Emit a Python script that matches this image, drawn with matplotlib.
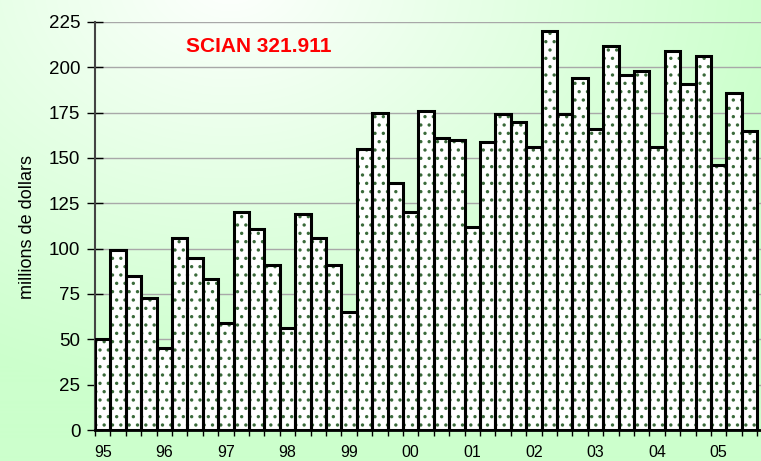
import numpy as np
import matplotlib
matplotlib.use('Agg')
import matplotlib.pyplot as plt

# quarterly values, 1995 Q1 to 2005 Q3 (millions of dollars)
values = [50, 99, 85, 73,
          45, 106, 95, 83,
          59, 120, 111, 91,
          56, 119, 106, 91,
          65, 155, 175, 136,
          120, 176, 161, 160,
          112, 159, 174, 170,
          156, 220, 174, 194,
          166, 212, 196, 198,
          156, 209, 191, 206,
          146, 186, 165]
year_labels = ['95', '96', '97', '98', '99', '00', '01', '02', '03', '04', '05']
yticks = [0, 25, 50, 75, 100, 125, 150, 175, 200, 225]

narrow = ['Liberation Sans Narrow', 'Liberation Sans', 'DejaVu Sans']
plt.rcParams['hatch.linewidth'] = 1.2

fig = plt.figure(figsize=(7.61, 4.61), dpi=100)

# background gradient: white near top left, light green elsewhere
bg = fig.add_axes([0, 0, 1, 1], zorder=-10)
bg.axis('off')
W, H = 761, 461
xx, yy = np.meshgrid(np.arange(W), np.arange(H))
d = np.sqrt(((xx - 230) / 1.0) ** 2 + ((yy + 20) / 0.75) ** 2)
t = np.clip(d / 560.0, 0, 1) ** 0.9
green = np.array([204, 255, 204]) / 255.0
img = (1 - t[..., None]) * np.array([1.0, 1.0, 1.0]) + t[..., None] * green
bg.imshow(img, extent=[0, 1, 0, 1], aspect='auto', origin='upper')
bg.set_xlim(0, 1)
bg.set_ylim(0, 1)

ax = fig.add_axes([95 / 761, 31 / 461, 666 / 761, 408 / 461])
ax.patch.set_alpha(0)

x = np.arange(len(values))
# dotted fill, then black outlines on top
ax.bar(x, values, width=1.0, color='white', edgecolor='#3a6a3a',
       hatch='..', linewidth=0, zorder=2)
ax.bar(x, values, width=1.0, fill=False, edgecolor='black',
       linewidth=2.2, zorder=3)

ax.set_xlim(-0.5, 42.75)
ax.set_ylim(0, 225)

ax.set_yticks(yticks)
ax.yaxis.grid(True, color='#a8a8a8', linewidth=1.0, zorder=0)
ax.set_axisbelow(True)
ax.tick_params(axis='y', direction='inout', length=11, width=1.0,
               pad=5, labelsize=13.5)

ax.set_xticks(np.arange(0, len(values), 4))
ax.set_xticklabels(year_labels)
ax.set_xticks(np.arange(-0.5, len(values), 1), minor=True)
ax.tick_params(axis='x', which='major', length=0, pad=11, labelsize=11.5)
ax.tick_params(axis='x', which='minor', direction='out', length=4, width=1.0)

for lab in ax.get_xticklabels() + ax.get_yticklabels():
    lab.set_family(narrow)

ax.spines['top'].set_visible(False)
ax.spines['right'].set_visible(False)
ax.spines['left'].set_color('#444444')
ax.spines['left'].set_linewidth(1.5)
ax.spines['bottom'].set_color('black')
ax.spines['bottom'].set_linewidth(2.0)
ax.spines['bottom'].set_zorder(4)

fig.text(28 / 761, 1 - 227 / 461, 'millions de dollars', rotation=90,
         ha='center', va='center', fontsize=13, family=narrow)
fig.text(259 / 761, 1 - 47 / 461, 'SCIAN 321.911', color='#ff0000',
         ha='center', va='center', fontsize=15, fontweight='bold',
         family=['Liberation Sans', 'DejaVu Sans'])

fig.savefig('out.png', dpi=100)
